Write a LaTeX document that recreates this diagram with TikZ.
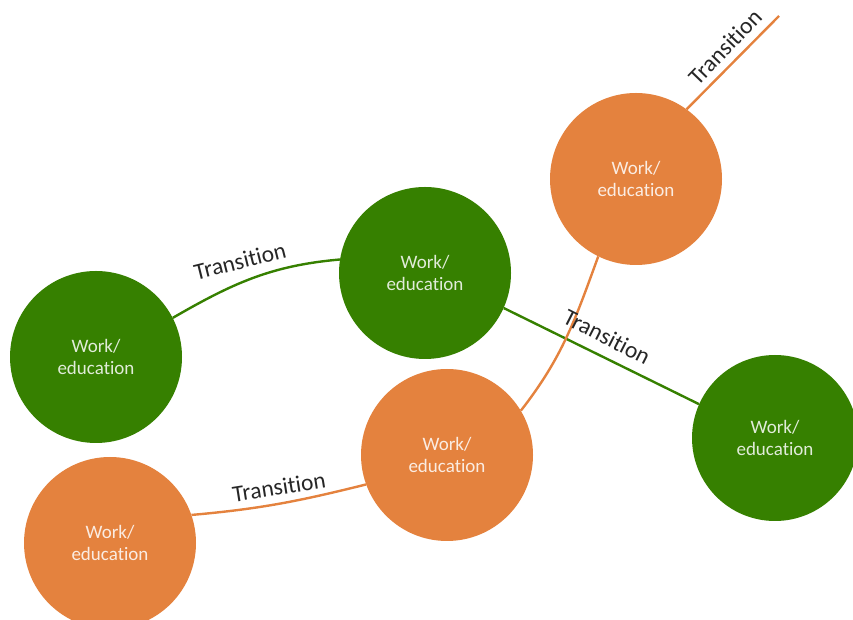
\documentclass[tikz,border=0pt]{standalone}
\usepackage{fontspec}
\setmainfont{Carlito}[Ligatures=NoCommon]
\begin{document}
\definecolor{stagegreen}{RGB}{54,128,0}
\definecolor{stageorange}{RGB}{228,130,62}
\definecolor{labelgray}{RGB}{38,38,38}
\begin{tikzpicture}[x=1pt,y=1pt,
  stage/.style={circle,minimum size=172pt,inner sep=0pt,align=center,
    font=\fontsize{19}{22}\selectfont,text=white,text opacity=0.85},
  greenstage/.style={stage,fill=stagegreen},
  orangestage/.style={stage,fill=stageorange},
  greenlink/.style={draw=stagegreen,line width=2.4pt},
  orangelink/.style={draw=stageorange,line width=2.4pt},
  translabel/.style={font=\fontsize{23.5}{25}\selectfont,text=labelgray,inner sep=0pt}]
\useasboundingbox (0,0) rectangle (853,620);

% work / education stages
\node[greenstage]  (g1) at (96,263)  {Work/\\education};
\node[greenstage]  (g2) at (425,347) {Work/\\education};
\node[greenstage,minimum size=166pt] (g3) at (775,182) {Work/\\education};
\node[orangestage] (o1) at (110,77)  {Work/\\education};
\node[orangestage] (o2) at (447,165) {Work/\\education};
\node[orangestage] (o3) at (636,441) {Work/\\education};
\coordinate (oend) at (779,604);

% transitions between stages
\draw[greenlink] (g1.27) to[out=30,in=185] (g2.171);
\draw[greenlink] (g2.-24) -- (g3.156);
\draw[orangelink] (o1.19) to[out=5,in=194] (o2.200);
\draw[orangelink] (o2.31) to[out=52,in=250] (o3.244);
\draw[orangelink] (o3.54) -- (oend);

% transition labels
\node[translabel,rotate=14]  (t1) at (240,359) {Transition};
\node[translabel,rotate=-27] (t2) at (607,283) {Transition};
\node[translabel,rotate=9]   (t3) at (279,133) {Transition};
\node[translabel,rotate=46]  (t4) at (725,573) {Transition};
\end{tikzpicture}
\end{document}
